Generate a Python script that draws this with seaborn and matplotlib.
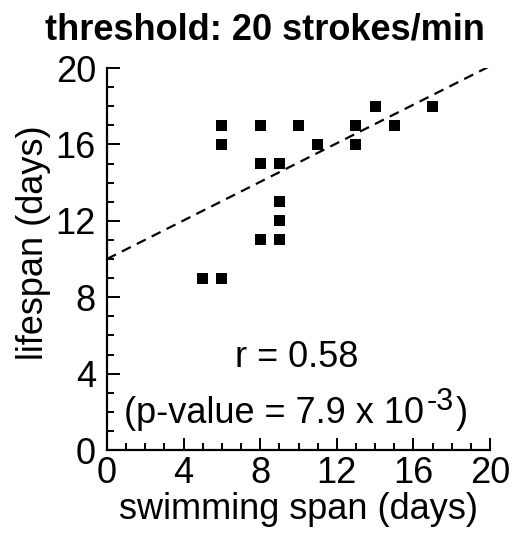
import matplotlib
matplotlib.use("Agg")
import matplotlib.pyplot as plt
import seaborn as sns
import pandas as pd
from matplotlib.ticker import MultipleLocator

swim_days = [5, 6, 6, 6, 8, 8, 8, 9, 9, 9, 9, 10, 11, 13, 13, 14, 15, 17]
life_days = [9, 9, 17, 16, 17, 15, 11, 15, 13, 12, 11, 17, 16, 17, 16, 18, 17, 18]
fit_x = [0, 20]
fit_y = [10.0, 20.1]
title = "threshold: 20 strokes/min"
r_text = "r = 0.58"
p_base = "(p-value = 7.9 x 10"
p_sup = "-3"
p_close = ")"

sns.set_style("ticks")
plt.rcParams["font.family"] = ["Liberation Sans", "DejaVu Sans"]
for k in ["text.color", "axes.labelcolor", "xtick.color", "ytick.color", "axes.edgecolor"]:
    plt.rcParams[k] = "black"

df = pd.DataFrame({"x": swim_days, "y": life_days})
fit = pd.DataFrame({"x": fit_x, "y": fit_y})

fig = plt.figure(figsize=(5.13, 5.42), dpi=100)
ax = fig.add_axes([107/513, 1-450/542, 383/513, 382/542])

sns.lineplot(data=fit, x="x", y="y", ax=ax, color="black", lw=1.6,
             dashes=False, zorder=2)
ax.lines[0].set_dashes((4.5, 3.0))
sns.scatterplot(data=df, x="x", y="y", ax=ax, marker="s", s=62, color="black",
                edgecolor="none", zorder=3)

ax.set_xlim(0, 20)
ax.set_ylim(0, 20)
ax.xaxis.set_major_locator(MultipleLocator(4))
ax.xaxis.set_minor_locator(MultipleLocator(1))
ax.yaxis.set_major_locator(MultipleLocator(4))
ax.yaxis.set_minor_locator(MultipleLocator(1))
ax.tick_params(which="major", direction="in", length=9, width=1.4, labelsize=26)
ax.tick_params(axis="y", which="major", pad=8)
ax.tick_params(axis="x", which="major", pad=4)
ax.tick_params(which="minor", direction="in", length=5, width=1.4)
for s in ["top", "right"]:
    ax.spines[s].set_visible(False)
for s in ["left", "bottom"]:
    ax.spines[s].set_linewidth(1.6)

ax.set_xlabel("swimming span (days)", fontsize=26, labelpad=1)
ax.set_ylabel("lifespan (days)", fontsize=26)
ax.yaxis.set_label_coords(-0.145, 0.542)
fig.text(265/513, 1 - 40/542, title, fontsize=26, fontweight="bold",
         ha="center", va="baseline")

ax.text(9.9, 4.35, r_text, fontsize=26, ha="center", va="baseline")
base = ax.text(0.9, 1.41, p_base, fontsize=26, ha="left", va="baseline")
sup = ax.annotate(p_sup, xy=(1, 1.41), xycoords=(base, "data"),
                  xytext=(2, 9.5), textcoords="offset points",
                  fontsize=22, ha="left", va="baseline")
ax.annotate(p_close, xy=(1, 1.41), xycoords=(sup, "data"),
            xytext=(1, 0), textcoords="offset points",
            fontsize=26, ha="left", va="baseline")

fig.savefig("out.png", dpi=100)
